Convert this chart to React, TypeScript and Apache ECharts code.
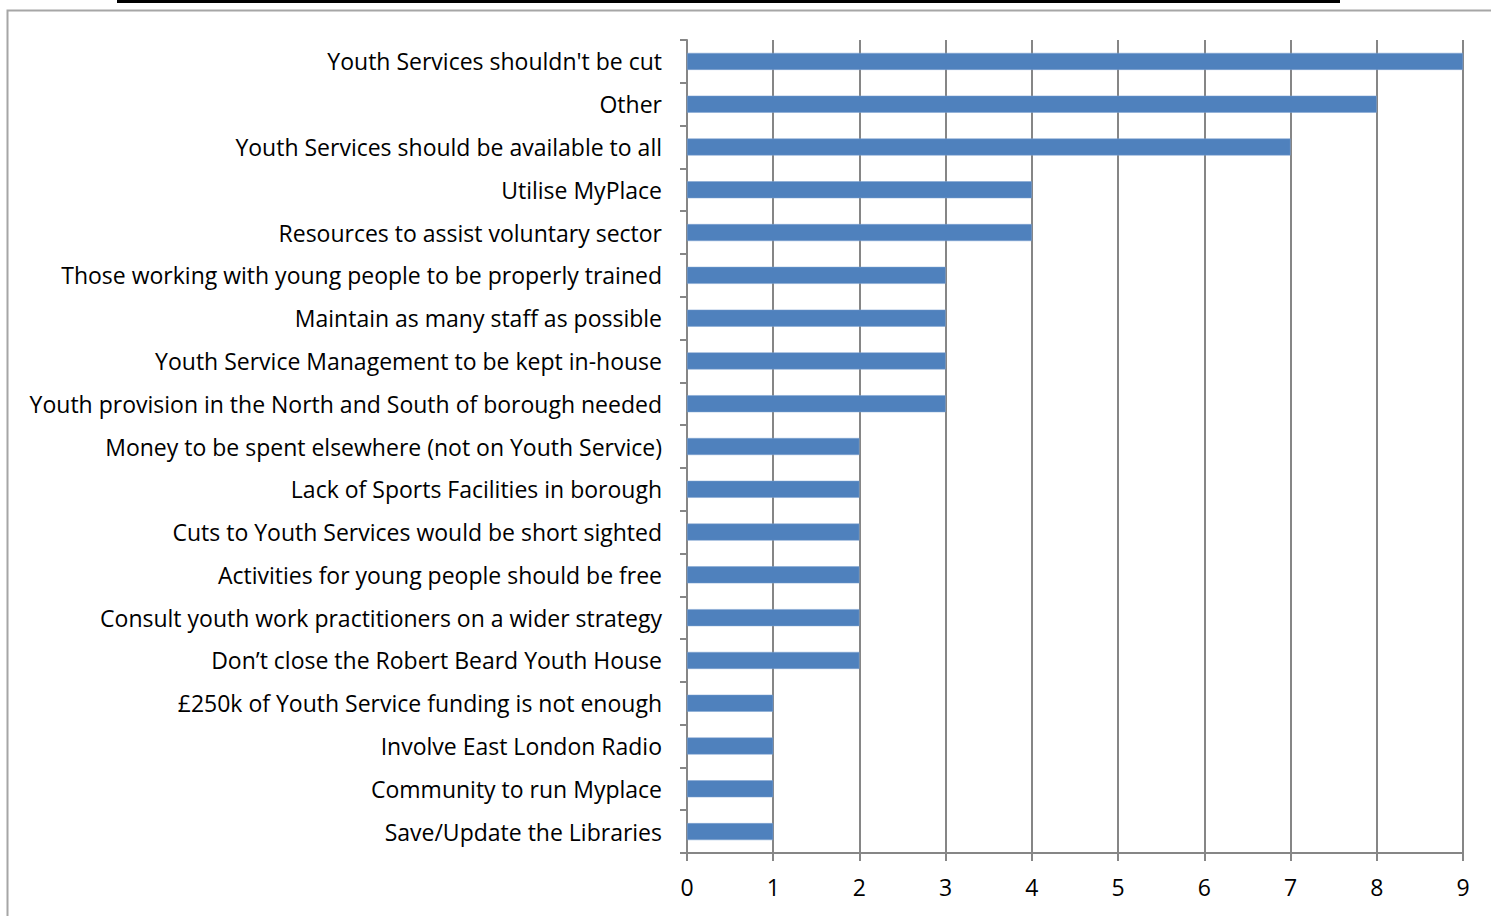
import React, { useEffect, useRef } from "react";
import * as echarts from "echarts";

const categories = [
  "Youth Services shouldn't be cut",
  "Other",
  "Youth Services should be available to all",
  "Utilise MyPlace",
  "Resources to assist voluntary sector",
  "Those working with young people to be properly trained",
  "Maintain as many staff as possible",
  "Youth Service Management to be kept in-house",
  "Youth provision in the North and South of borough needed",
  "Money to be spent elsewhere (not on Youth Service)",
  "Lack of Sports Facilities in borough",
  "Cuts to Youth Services would be short sighted",
  "Activities for young people should be free",
  "Consult youth work practitioners on a wider strategy",
  "Don\u2019t close the Robert Beard Youth House",
  "\u00a3250k of Youth Service funding is not enough",
  "Involve East London Radio",
  "Community to run Myplace",
  "Save/Update the Libraries",
];
const values = [9, 8, 7, 4, 4, 3, 3, 3, 3, 2, 2, 2, 2, 2, 2, 1, 1, 1, 1];

export default function App() {
  const ref = useRef<HTMLDivElement>(null);
  useEffect(() => {
    if (!ref.current) return;
    const chart = echarts.init(ref.current, undefined, { renderer: "svg" });
    const font = "'Open Sans', 'Noto Sans', sans-serif";
    chart.setOption({
      animation: false,
      backgroundColor: "#ffffff",
      textStyle: { fontFamily: font },
      graphic: [
        { type: "rect", shape: { x: 117, y: 0, width: 1223, height: 3 }, style: { fill: "#000" } },
        {
          type: "rect",
          shape: { x: 7.5, y: 10.5, width: 1500, height: 920 },
          style: { fill: "none", stroke: "#a6a6a6", lineWidth: 2 },
          silent: true,
        },
      ],
      grid: { left: 687, top: 40, right: 28, bottom: 63, containLabel: false },
      xAxis: {
        type: "value",
        min: 0,
        max: 9,
        interval: 1,
        axisLine: { show: true, lineStyle: { color: "#868686", width: 2 } },
        axisTick: { show: true, length: 8, lineStyle: { color: "#868686", width: 2 } },
        splitLine: { show: true, lineStyle: { color: "#868686", width: 2 } },
        axisLabel: { color: "#000", fontSize: 23, margin: 22, fontFamily: font },
      },
      yAxis: {
        type: "category",
        data: categories,
        inverse: true,
        axisLine: { show: true, lineStyle: { color: "#868686", width: 2 } },
        axisTick: { show: true, length: 7, lineStyle: { color: "#868686", width: 2 } },
        axisLabel: { color: "#000", fontSize: 23, margin: 25, fontFamily: font },
      },
      series: [
        {
          type: "bar",
          data: values,
          barWidth: 17,
          itemStyle: { color: "#4F81BD", borderColor: "#7fa3d1", borderWidth: 0.5 },
        },
      ],
    });
    return () => chart.dispose();
  }, []);
  return (
    <div
      ref={ref}
      style={{ position: "fixed", left: 0, top: 0, width: 1491, height: 916 }}
    />
  );
}
